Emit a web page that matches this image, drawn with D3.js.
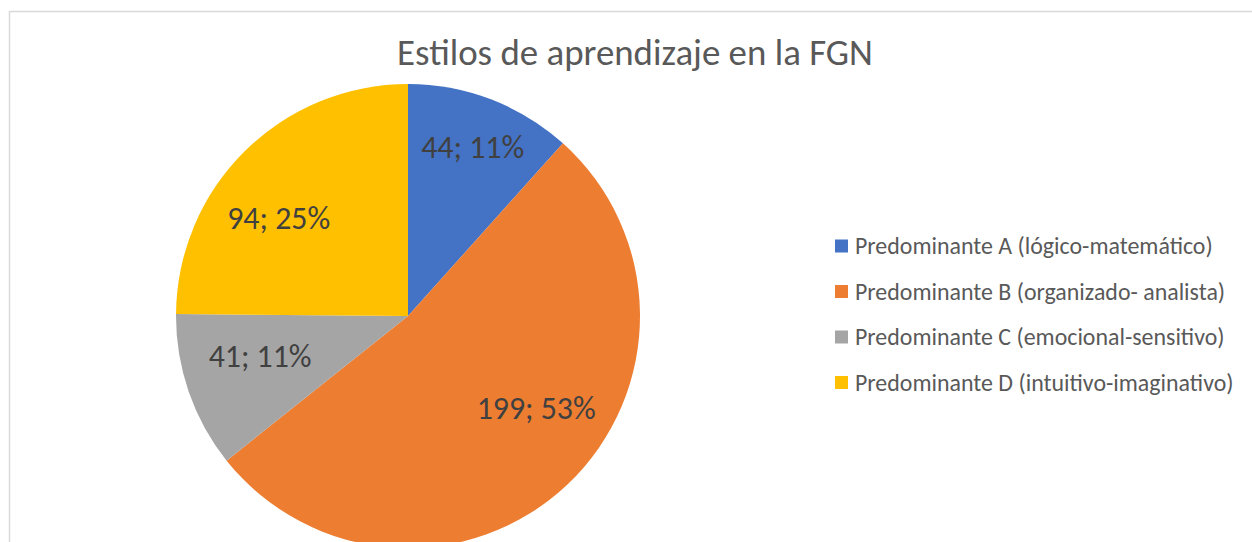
<!DOCTYPE html>
<html>
<head>
<meta charset="utf-8">
<script src="https://cdn.jsdelivr.net/npm/d3@7"></script>
<style>
  body { margin: 0; background: #fff; }
  text { font-family: "Carlito", "Open Sans", sans-serif; }
</style>
</head>
<body>
<div id="chart"></div>
<script>
// Data
const categories = [
    "Predominante A (lógico-matemático)",
    "Predominante B (organizado- analista)",
    "Predominante C (emocional-sensitivo)",
    "Predominante D (intuitivo-imaginativo)"
];
const values = [44, 199, 41, 94];
const percents = [11, 53, 11, 25];
const colors = ["#4472C4", "#ED7D31", "#A5A5A5", "#FFC000"];
const title = "Estilos de aprendizaje en la FGN";

// Layout
const W = 1252, H = 542;
const cx = 408, cy = 316, r = 232;
// Excel "best fit" label placement: radius factor and angle nudge (deg)
const labelK = [0.78, 0.68, 0.66, 0.70];
const labelNudge = [0, -11, 4, -8];

const svg = d3.select("#chart")
    .append("svg")
    .attr("width", W)
    .attr("height", H);

// chart area border
svg.append("rect")
    .attr("x", 9.5).attr("y", 11.5)
    .attr("width", W + 20).attr("height", H + 20)
    .attr("fill", "#fff")
    .attr("stroke", "#d9d9d9")
    .attr("stroke-width", 1.5);

// fit a text element to a target width
function fit(sel, target) {
    const fs = parseFloat(sel.attr("font-size"));
    const w = sel.node().getComputedTextLength();
    sel.attr("font-size", fs * target / w);
    return fs * target / w;
}

// Title
const t = svg.append("text")
    .attr("x", 635).attr("y", 65)
    .attr("text-anchor", "middle")
    .attr("font-size", 30)
    .attr("fill", "#595959")
    .text(title);
fit(t, 476);

// Pie
const pie = d3.pie().sort(null).value(d => d)(values);
const arc = d3.arc().innerRadius(0).outerRadius(r);

const g = svg.append("g").attr("transform", `translate(${cx},${cy})`);

g.selectAll("path.slice")
    .data(pie)
    .enter()
    .append("path")
    .attr("class", "slice")
    .attr("d", arc)
    .attr("fill", (d, i) => colors[i]);

// Data labels
const labels = g.selectAll("text.lbl")
    .data(pie)
    .enter()
    .append("text")
    .attr("class", "lbl")
    .attr("text-anchor", "middle")
    .attr("dy", "0.35em")
    .attr("font-size", 28)
    .attr("fill", "#404040")
    .text((d, i) => `${values[i]}; ${percents[i]}%`)
    .attr("transform", (d, i) => {
        const a = (d.startAngle + d.endAngle) / 2 + labelNudge[i] * Math.PI / 180;
        const rr = r * labelK[i];
        return `translate(${rr * Math.sin(a)},${-rr * Math.cos(a)})`;
    });
const lfs = fit(d3.select(labels.nodes()[0]), 103);
labels.attr("font-size", lfs);

// Legend
const legend = svg.append("g").attr("transform", "translate(835,246)");
const rows = legend.selectAll("g")
    .data(categories)
    .enter()
    .append("g")
    .attr("transform", (d, i) => `translate(0,${i * 45.5})`);

rows.append("rect")
    .attr("x", 0).attr("y", -6.5)
    .attr("width", 13).attr("height", 13)
    .attr("fill", (d, i) => colors[i]);

const ltext = rows.append("text")
    .attr("x", 20)
    .attr("dy", "0.35em")
    .attr("font-size", 18)
    .attr("fill", "#595959")
    .text(d => d);
const legfs = fit(d3.select(ltext.nodes()[0]), 358);
ltext.attr("font-size", legfs);
</script>
</body>
</html>
